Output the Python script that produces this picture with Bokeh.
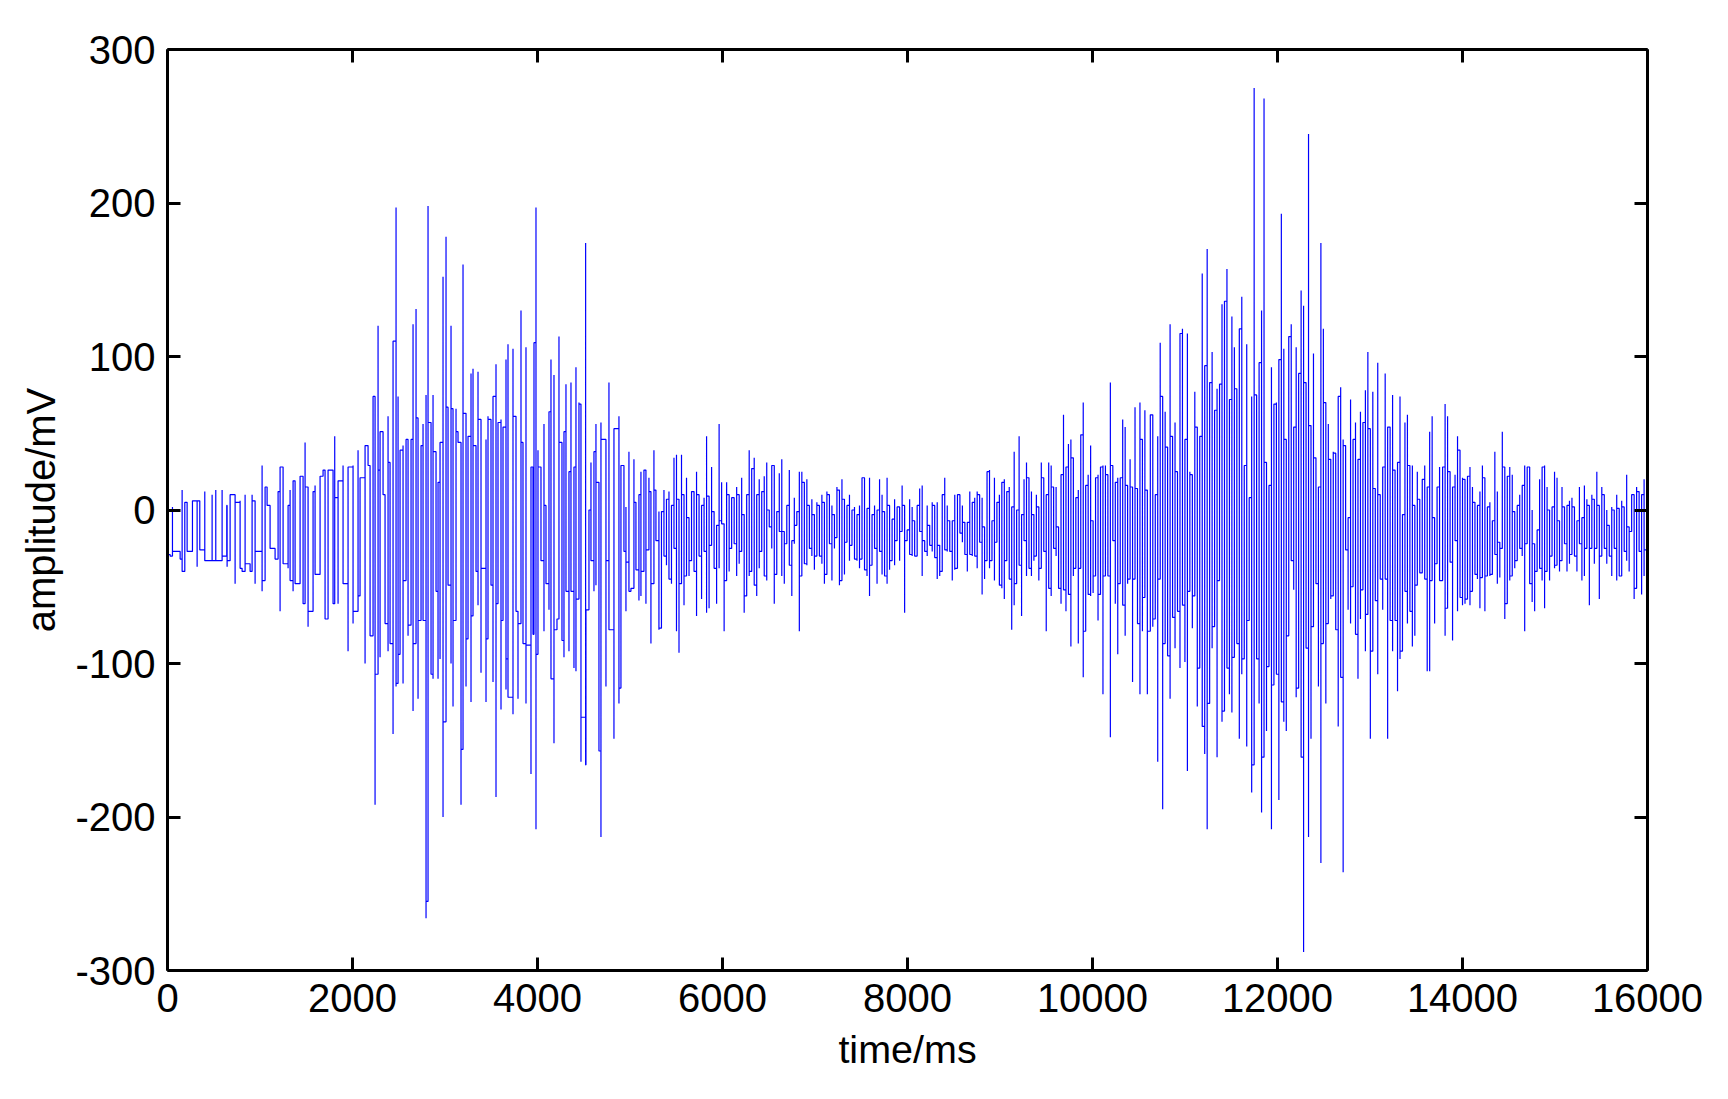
from bokeh.plotting import figure
from bokeh.models import LinearAxis, FixedTicker
from bokeh.embed import file_html
from bokeh.resources import INLINE
import numpy as np

x_ticks = [0, 2000, 4000, 6000, 8000, 10000, 12000, 14000, 16000]
y_ticks = [-300, -200, -100, 0, 100, 200, 300]
x_title = "time/ms"
y_title = "amplitude/mV"

# first two parts: crest and trough values with the column each was read at
a_high_col = [20, 35, 64, 79, 95, 117, 132, 154, 165, 184, 198, 208, 228, 238, 253, 274, 283, 304, 319, 328, 352, 358, 367, 382, 388, 403, 418, 433, 442, 457, 463, 478, 487, 505, 522, 532, 538, 547, 562, 577, 592]
a_high = [0, 2, 13, 5, 6, 6, 12, 10, 13, 13, 3, 10, 5, 6, 10, 10, 6, 29, 15, 3, 12, 16, 28, 3, 13, 19, 22, 44, 15, 12, 16, 22, 26, 26, 48, 8, 19, 29, 28, 29, 39]
a_low_col = [20, 28, 42, 58, 72, 87, 109, 125, 139, 148, 163, 178, 193, 199, 208, 223, 238, 244, 259, 268, 283, 298, 304, 313, 328, 343, 358, 373, 382, 388, 397, 412, 427, 442, 457, 472, 493, 502, 517, 532, 547, 562, 577, 583, 598]
a_low = [-29, -30, -27, -32, -40, -27, -37, -26, -33, -33, -33, -33, -30, -37, -33, -48, -38, -40, -35, -40, -48, -27, -53, -46, -25, -32, -66, -35, -38, -46, -53, -48, -61, -76, -66, -42, -71, -71, -61, -61, -48, -92, -74, -66, -56]
a_origin = -72.4

b_high_col = [7, 13, 22, 28, 37, 52, 58, 67, 73, 82, 88, 97, 106, 112, 121, 127, 136, 151, 157, 166, 172, 181, 187, 196, 202, 211, 217, 226, 232, 241, 247, 256, 262, 271, 277, 286, 292, 301, 307, 316, 322, 331, 337, 346, 352, 361, 376, 382, 391, 397, 406, 412, 421, 427, 436, 442, 457, 466, 481, 487, 496, 511, 520, 526, 532, 541, 550, 556, 565, 571, 580, 595, 601, 610, 616, 625, 631, 640, 646, 655, 661, 675, 685, 691, 700, 706, 715, 721, 736, 745, 760, 775, 781, 790, 796, 805, 820, 826, 835, 841, 850, 865, 871, 880, 886, 895]
b_high = [21, 31, 42, 29, 74, 120, 26, 51, 10, 61, 31, 110, 197, 74, 39, 42, 46, 46, 121, 131, 60, 42, 56, 75, 198, 57, 75, 38, 18, 44, 152, 178, 67, 120, 66, 66, 51, 44, 160, 63, 48, 89, 92, 42, 90, 59, 46, 61, 59, 74, 95, 57, 59, 54, 98, 108, 105, 61, 130, 44, 106, 28, 109, 197, 39, 28, 56, 3, 64, 98, 88, 113, 44, 51, 82, 25, 83, 28, 93, 70, 69, 174, 0, 31, 38, 56, 18, 57, 46, 83, 53, 61, 29, 29, 2, 38, 33, 5, 10, 25, 26, 21, 12, 39, 13, -1]
b_low_col = [13, 28, 43, 52, 58, 73, 82, 88, 97, 106, 112, 118, 127, 136, 142, 151, 157, 166, 172, 181, 187, 196, 202, 211, 217, 226, 232, 238, 247, 256, 262, 271, 277, 286, 301, 307, 316, 322, 331, 337, 346, 352, 361, 367, 376, 382, 391, 397, 406, 412, 421, 427, 436, 442, 451, 457, 466, 472, 481, 487, 496, 502, 511, 517, 526, 532, 541, 550, 556, 565, 571, 580, 589, 595, 604, 610, 619, 625, 631, 640, 646, 655, 661, 670, 676, 685, 691, 700, 706, 715, 721, 736, 745, 751, 760, 775, 781, 790, 796, 805, 811, 820, 826, 835, 841, 850, 856, 865, 871, 880, 886, 895]
b_low = [-100, -82, -192, -107, -96, -74, -92, -87, -146, -115, -113, -94, -113, -46, -82, -75, -131, -87, -123, -72, -72, -266, -255, -107, -110, -53, -110, -97, -200, -138, -49, -100, -128, -72, -192, -156, -115, -84, -125, -69, -40, -62, -106, -38, -125, -84, -49, -112, -187, -61, -130, -72, -117, -97, -122, -133, -66, -123, -74, -87, -126, -88, -172, -81, -208, -94, -33, -79, -48, -65, -110, -152, -78, -71, -85, -96, -53, -92, -53, -103, -105, -58, -164, -135, -166, -65, -33, -53, -49, -157, -213, -115, -33, -78, -149, -126, -116, -27, -66, -34, -53, -51, -39, -59, -56, -40, -61, -26, -87, -48, -20, -78]
b_origin = 2089
col_ms = 3.602

# later parts: top and bottom of each stroke
c_high = [-1, 13, 7, 12, 3, 34, 36, 7, 36, 10, 21, -5, 12, 12, 25, 10, 3, 8, 48, 9, 28, -1, -10, 56, 18, -9, 18, 10, 8, 8, 15, 10, 21, -3, 10, 39, 27, 34, 10, 20, 12, 22, 31, 0, 29, 29, -1, 24, 33, -14, 3, 26, -20, 8, -1, 25, 25, 18, 20, 3, 7, -3, 5, 3, 10, 5, 12, 10, 3, -3, 15, 13, 20, 7, 3, 10, 0, 2, -3, 3, 21, 21, 1, 21, -3, 3, 0, 20, 10, -1, 21, 3, -6, 7, 2, 2, 16, 3, -13, 7, 2, -7, 3, 14, 16, -20, 3, -10, 5, 3, 5, -23, 10, 21, 3, -7, -7, 10]
c_low = [-77, -30, -36, -45, -48, -25, -79, -93, -48, -62, -43, -43, -33, -40, -69, -30, -58, -27, -67, -64, -23, -38, -61, -38, -7, -79, -46, -40, -25, -22, -43, -35, -27, -67, -56, -43, -40, -49, -56, -38, -27, -43, -46, -11, -25, -61, -42, -14, -43, -48, -22, -36, -56, -22, -10, -79, -43, -35, -36, -25, -30, -39, -30, -30, -35, -48, -42, -22, -46, -25, -18, -49, -46, -42, -21, -33, -23, -32, -33, -38, -32, -39, -43, -56, -36, -25, -48, -27, -42, -43, -48, -39, -33, -36, -20, -33, -14, -67, -20, -29, -30, -30, -30, -14, -43, -27, -30, -23, -27, -31, -45, -43, -40, -26, -27, -27, -46, -39]
c_span = [5340, 8511]

d_high = [10, 10, 3, -8, -8, 12, 5, 8, 12, 10, 8, -11, 25, 26, -7, 21, 5, 10, 18, 20, 12, 15, 2, 38, 0, 48, -3, 20, 31, 21, 12, -3, 10, 2, 31, 21, 10, 31, 29, 15, 15, -11, 23, 62, 28, 43, 46, 34, 8, 13, 49, 70, 16, 23, 42, -7, 21, 23, 28, 29, 29, 23, 83, 29, 18, 21, 21, 59, 54, 16, 33, 15, 67, 14, 70, 46, 65, 13]
d_low = [-38, -15, -21, -29, -40, -29, -30, -30, -38, -21, -55, -45, -33, -38, -33, -46, -21, -49, -51, -58, -33, -45, -78, -62, -48, -36, -69, -20, -43, -38, -43, -33, -30, -46, -38, -27, -79, -51, -56, -25, -30, -51, -61, -52, -66, -55, -89, -43, -38, -87, -38, -109, -79, -55, -56, -54, -43, -72, -55, -120, -43, -43, -148, -20, -61, -94, -48, -62, -82, -48, -45, -112, -45, -74, -120, -79, -57, -120]
d_span = [8540, 10593]

e_high = [62, 62, 10, 48, 109, 74, 64, 41, 121, 48, 57, 25, 115, 118, 46, 115, 25, 23, 77, 54, 48, 154, 94, 170, 83, 103, 65, 79, 82, 134, 136, 157, 72, 126, 106, 79, 118, 139, 29, 108, 8, 74, 275, 75, 96, 130, 268, 31, 16, 93, 69, 70, 98, 193, 105, 46, 113, 121, 54, 106, 89, 143, 133, 83, 245, 55, 102, 34, 15, 174, 118, 70, 56, 33, 38, 37, 74, 80, 46, 42, -5, 72, 46, 57, 33, 64, 57, 78, 103, 53, 77, 14, 96, 10, 28, 89, 54, 54, 75, 26, 31, 74, -3, 57, 62, 29, 29, 3, 25, 7, 20, 29, 15, 51, 61, -5, 15, 28]
e_low = [-79, -76, -71, -164, -45, -195, -87, -95, -123, -70, -90, -66, -103, -62, -99, -170, -53, -77, -56, -128, -103, -141, -159, -208, -126, -90, -76, -161, -46, -138, -131, -103, -120, -132, -96, -87, -149, -107, -97, -154, -72, -184, -166, -97, -126, -197, -161, -144, -102, -208, -114, -107, -189, -125, -138, -144, -82, -33, -52, -122, -116, -161, -288, -90, -213, -149, -76, -48, -115, -230, -87, -126, -74, -58, -56, -78, -141, -109, -236, -26, -65, -74, -50, -81, -110, -71, -52, -92, -68, -149, -92, -59, -107, -45, -65, -45, -149, -72, -92, -72, -118, -97, -92, -53, -74, -66, -89, -82, -49, -41, -41, -45, -105, -105, -46, -74, -35, -46]
e_span = [10625, 13752]

f_high = [28, 69, 61, 25, 15, 23, 48, 39, 21, 20, 22, 28, 15, 5, 3, 12, 29, 21, 2, 5, -7, 38, 12, -21, 51, 28, 22, 28, 23, -1, 3, 10, 16, 29, 28, 28, 0, -22, -13, 20, 28, 29, 15, 0, 2, 25, 21, -7, 15, 2, 3, 6, 8, 2, -7, 15, -5, 16, 7, 3, 10, 7, 25, 3, 15, 10, 0, -10, 2, 0, 10, 1, 6, 2, 23, -11, 10, 10, 15, 12, 10, 20, 28]
f_low = [-46, -82, -64, -34, -85, -20, -66, -57, -62, -61, -58, -62, -53, -42, -45, -64, -44, -66, -43, -43, -42, -29, -48, -44, -25, -71, -61, -46, -43, -38, -33, -25, -30, -79, -22, -48, -60, -66, -40, -38, -46, -64, -40, -46, -30, -38, -36, -40, -33, -22, -40, -35, -29, -30, -40, -22, -46, -43, -25, -62, -25, -35, -25, -58, -30, -25, -35, -30, -43, -25, -46, -43, -43, -27, -33, -40, -14, -58, -51, -27, -55, -43, -26]
f_span = [13785, 15990]

centre_level = -15


def columns(high_col, high, low_col, low, origin):
    tips = {}
    for c, v in zip(high_col, high):
        tips.setdefault(c, []).append(v)
    for c, v in zip(low_col, low):
        tips.setdefault(c, []).append(v)
    t, y = [], []
    last = 0
    for c in sorted(tips):
        vals = sorted(tips[c], key=lambda u: abs(u - last))
        for v in vals:
            t.append(origin + col_ms * c)
            y.append(v)
        last = y[-1]
    return t, y


def strokes(high, low, span):
    n = min(len(high), len(low))
    col = np.linspace(span[0], span[1], n)
    t, v = [], []
    for i in range(n):
        pair = (low[i], high[i]) if i % 2 == 0 else (high[i], low[i])
        t += [float(col[i]), float(col[i])]
        v += list(pair)
    return t, v


def upright(t, y):
    # every move between two columns runs flat at the inner of the two tips,
    # so that the strokes stay vertical as in the reference
    out_t, out_y = [t[0]], [y[0]]
    for i in range(1, len(t)):
        if t[i] != t[i - 1]:
            inner = min(y[i - 1], y[i], key=lambda u: abs(u - centre_level))
            out_t += [t[i - 1], t[i]]
            out_y += [inner, inner]
        out_t.append(t[i])
        out_y.append(y[i])
    return out_t, out_y


parts = [columns(a_high_col, a_high, a_low_col, a_low, a_origin),
         columns(b_high_col, b_high, b_low_col, b_low, b_origin)]
for h, l, s in [(c_high, c_low, c_span), (d_high, d_low, d_span),
                (e_high, e_low, e_span), (f_high, f_low, f_span)]:
    parts.append(strokes(h, l, s))
time = sum((q[0] for q in parts), [])
amp = sum((q[1] for q in parts), [])
time, amp = upright(time, amp)
time = np.clip(np.array(time, dtype=float), 0, 16000)
amp = np.array(amp, dtype=float)

p = figure(width=1712, height=1083, output_backend="svg", toolbar_location=None,
           x_range=(0, 16000), y_range=(-300, 300),
           min_border_left=167, min_border_right=65, min_border_top=49, min_border_bottom=113)
p.grid.visible = False
p.outline_line_color = None
p.background_fill_color = "white"
p.border_fill_color = "white"

p.line(time, amp, line_color="#0000ff", line_width=1.2)

FONT = "Liberation Sans"
SIZE = "40px"


def style(ax, ticks, labels):
    ax.ticker = FixedTicker(ticks=ticks)
    ax.major_label_overrides = {k: t for k, t in zip(ticks, labels)}
    ax.major_tick_in = 13
    ax.major_tick_out = 0
    ax.minor_tick_in = 0
    ax.minor_tick_out = 0
    ax.major_tick_line_width = 3
    ax.major_tick_line_color = "black"
    ax.axis_line_width = 3
    ax.axis_line_color = "black"
    ax.major_label_text_font = FONT
    ax.major_label_text_font_size = SIZE
    ax.major_label_text_color = "black"


xa = p.xaxis[0]
ya = p.yaxis[0]
style(xa, x_ticks, [str(v) for v in x_ticks])
style(ya, y_ticks, [str(v) for v in y_ticks])
xa.major_label_standoff = 13
ya.major_label_standoff = 12
xa.axis_label = x_title
ya.axis_label = y_title
for ax in (xa, ya):
    ax.axis_label_text_font = FONT
    ax.axis_label_text_font_style = "normal"
    ax.axis_label_text_color = "black"
xa.axis_label_text_font_size = "39.5px"
ya.axis_label_text_font_size = SIZE
xa.axis_label_standoff = 12
ya.axis_label_standoff = 9

top = LinearAxis()
style(top, x_ticks, ["" for v in x_ticks])
top.major_label_standoff = 0
p.add_layout(top, "above")
right = LinearAxis()
style(right, y_ticks, ["" for v in y_ticks])
right.major_label_standoff = 0
p.add_layout(right, "right")

open("out.html", "w").write(file_html(p, INLINE))
